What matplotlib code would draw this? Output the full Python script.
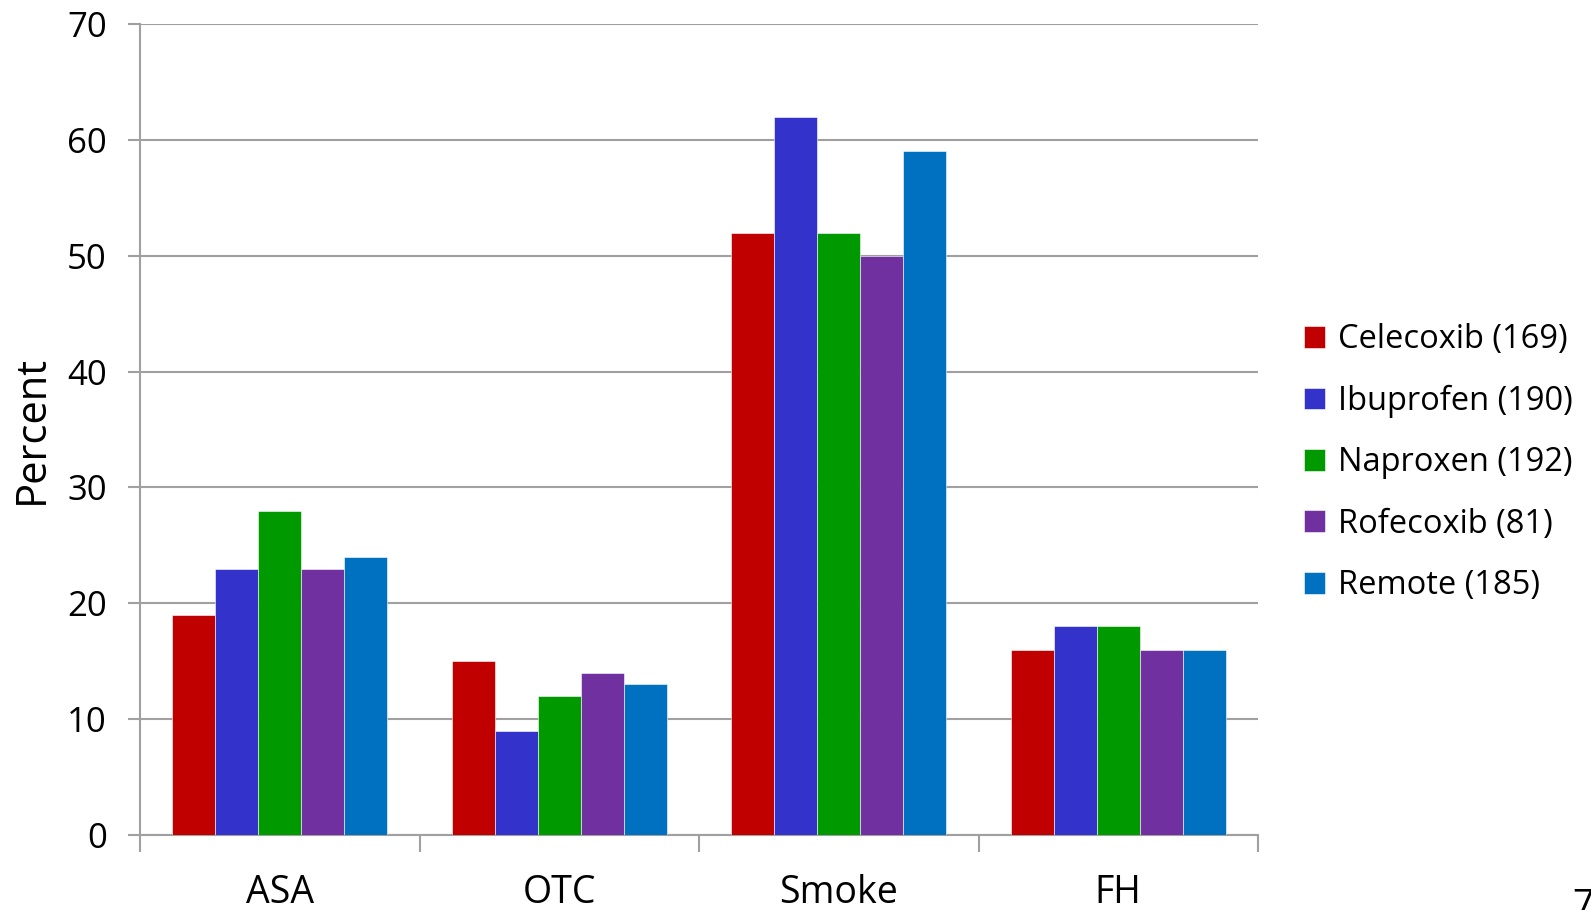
import matplotlib

matplotlib.use("Agg")
import matplotlib.pyplot as plt
import numpy as np

plt.rcParams["font.family"] = ["Open Sans", "DejaVu Sans"]

categories = ["ASA", "OTC", "Smoke", "FH"]
series_names = ["Celecoxib (169)", "Ibuprofen (190)", "Naproxen (192)",
                "Rofecoxib (81)", "Remote (185)"]
series_colors = ["#C00000", "#3333CC", "#009900", "#7030A0", "#0070C0"]
values = {
    "Celecoxib (169)": [19, 15, 52, 16],
    "Ibuprofen (190)": [23, 9, 62, 18],
    "Naproxen (192)": [28, 12, 52, 18],
    "Rofecoxib (81)": [23, 14, 50, 16],
    "Remote (185)": [24, 13, 59, 16],
}
y_ticks = [0, 10, 20, 30, 40, 50, 60, 70]

GRID = "#A0A0A0"

fig = plt.figure(figsize=(15.91, 9.10), dpi=100)
ax = fig.add_axes([0.088, 0.0824, 0.7027, 0.8912])

x = np.arange(len(categories)) + 0.5
width = 0.154
for i, name in enumerate(series_names):
    offset = (i - 2) * width
    ax.bar(x + offset, values[name], width, color=series_colors[i],
           label=name, edgecolor="white", linewidth=0.4, zorder=3)

ax.set_xlim(0, len(categories))
ax.set_ylim(0, 70)
ax.set_yticks(y_ticks)
ax.yaxis.grid(True, color=GRID, linewidth=1.5, zorder=0)
ax.set_axisbelow(True)

# category labels sit between the boundary ticks
ax.set_xticks(np.arange(len(categories) + 1))
ax.set_xticklabels([])
ax.set_xticks(x, minor=True)
ax.set_xticklabels(categories, minor=True, fontsize=27)
ax.tick_params(axis="x", which="major", length=12, width=1.5, color=GRID,
               direction="out")
ax.tick_params(axis="x", which="minor", length=0, pad=28)
ax.tick_params(axis="y", length=9, width=1.5, color=GRID, labelsize=25, pad=15)

for side in ["top", "right"]:
    ax.spines[side].set_visible(False)
for side in ["left", "bottom"]:
    ax.spines[side].set_color(GRID)
    ax.spines[side].set_linewidth(1.5)

ax.set_ylabel("Percent", fontsize=30, labelpad=10)

ax.legend(loc="center left", bbox_to_anchor=(1.015, 0.459), frameon=False,
          fontsize=23.5, handlelength=0.65, handleheight=0.65, handletextpad=0.4,
          labelspacing=0.87)

# slide page number, partly off the bottom edge
fig.text(0.988, 0.024, "7", fontsize=27, ha="left", va="top")

fig.savefig("out.png", dpi=100)
